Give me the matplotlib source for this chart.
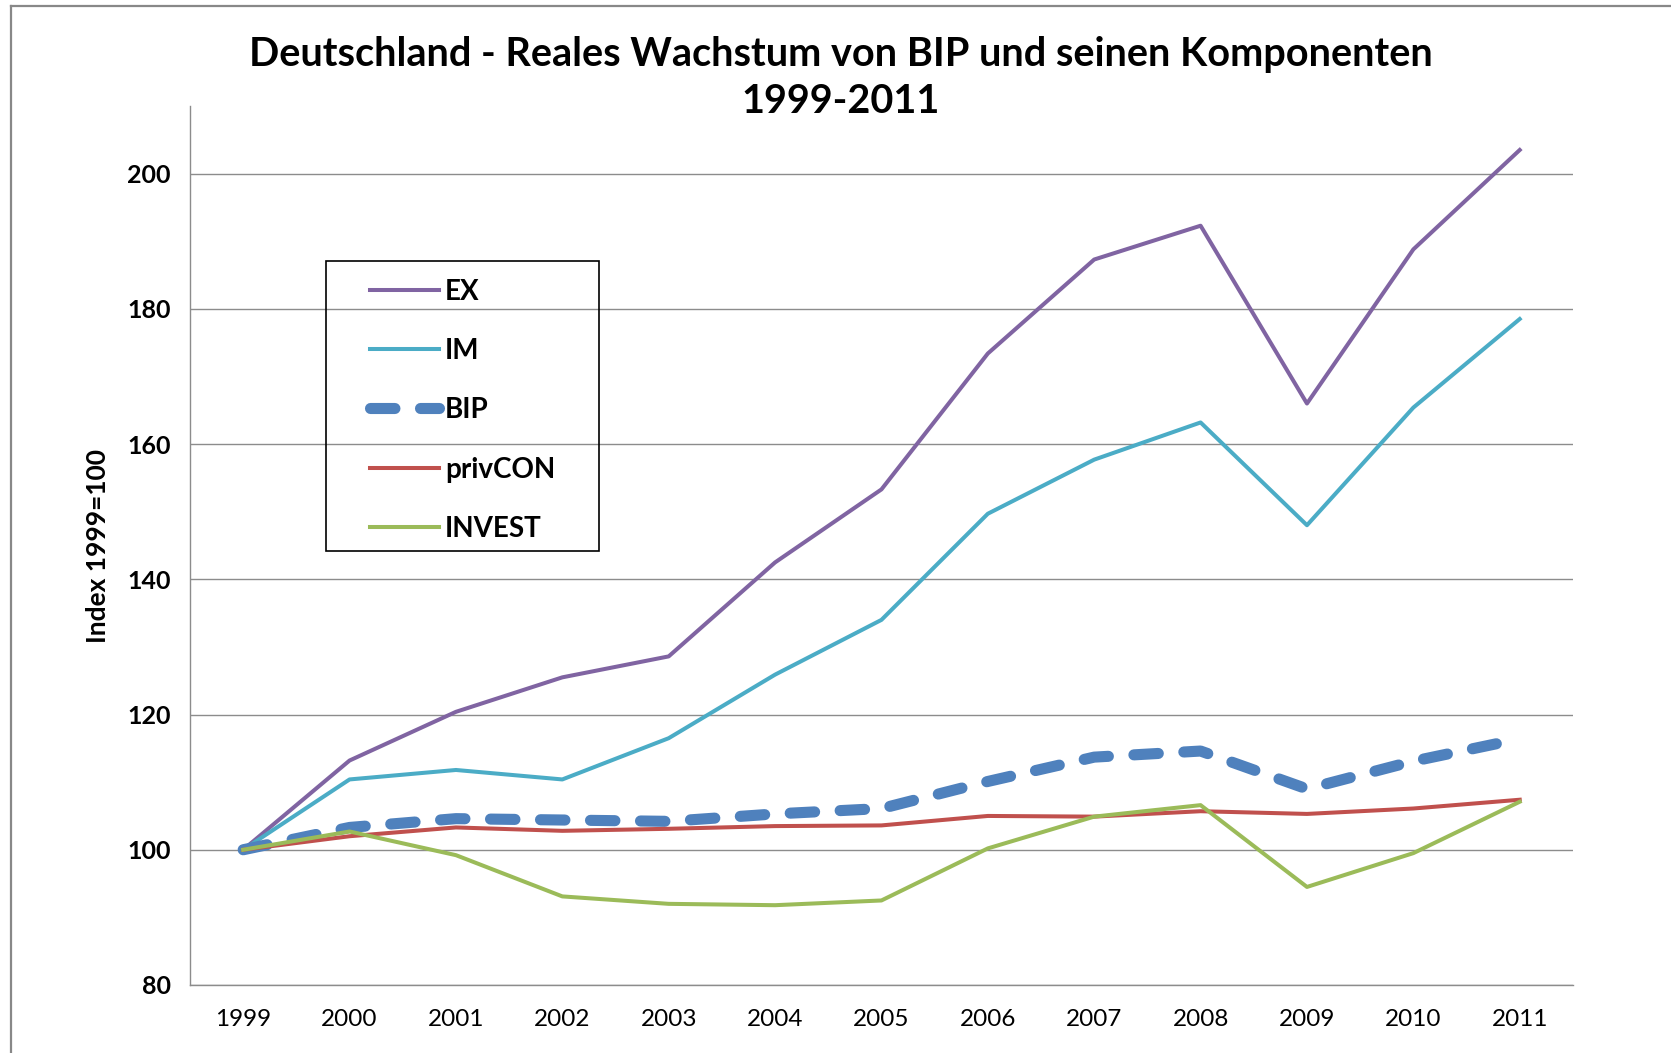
import matplotlib
matplotlib.use('Agg')
import matplotlib.pyplot as plt
from matplotlib.lines import Line2D
from matplotlib.patches import Rectangle

plt.rcParams['font.family'] = ['Lato', 'DejaVu Sans']

years = ['1999', '2000', '2001', '2002', '2003', '2004', '2005',
         '2006', '2007', '2008', '2009', '2010', '2011']
ex = [100, 113.2, 120.4, 125.5, 128.6, 142.5, 153.3, 173.4, 187.3, 192.3, 166.0, 188.8, 203.5]
im = [100, 110.4, 111.8, 110.4, 116.5, 125.9, 134.0, 149.7, 157.7, 163.2, 148.0, 165.4, 178.5]
bip = [100, 103.3, 104.6, 104.4, 104.2, 105.3, 106.1, 110.1, 113.7, 114.6, 109.0, 113.1, 116.4]
privcon = [100, 102.0, 103.3, 102.8, 103.1, 103.5, 103.6, 105.0, 104.9, 105.7, 105.3, 106.1, 107.4]
invest = [100, 102.7, 99.2, 93.1, 92.0, 91.8, 92.5, 100.2, 104.9, 106.6, 94.5, 99.5, 107.1]

fig = plt.figure(figsize=(16.71, 10.53), dpi=100)
ax = fig.add_axes([0.1137, 0.0646, 0.8276, 0.8347])

x = range(len(years))
ax.plot(x, ex, color='#8064A2', lw=2.9, label='EX')
ax.plot(x, im, color='#4BACC6', lw=2.9, label='IM')
ax.plot(x, bip, color='#4F81BD', lw=8, dashes=(2.2, 2.3), dash_capstyle='round', label='BIP')
ax.plot(x, privcon, color='#C0504D', lw=2.9, label='privCON')
ax.plot(x, invest, color='#9BBB59', lw=2.9, label='INVEST')

ax.set_xlim(-0.5, 12.5)
ax.set_ylim(80, 210)
ax.set_yticks([80, 100, 120, 140, 160, 180, 200])
ax.set_xticks(list(x))
ax.set_xticklabels(years)
ax.yaxis.grid(True, color='#8c8c8c', lw=1)
ax.set_axisbelow(True)
ax.tick_params(axis='x', length=0, labelsize=17.5, pad=17)
ax.tick_params(axis='y', length=0, labelsize=18, pad=14)
for lab in ax.get_yticklabels():
    lab.set_fontweight('bold')
for s in ['top', 'right']:
    ax.spines[s].set_visible(False)
for s in ['left', 'bottom']:
    ax.spines[s].set_color('#8c8c8c')
    ax.spines[s].set_linewidth(1)

ax.set_ylabel('Index 1999=100', fontsize=19, fontweight='bold')
ax.yaxis.set_label_coords(-0.058, 0.5)

# legend box drawn separately, entries placed inside it
fig.add_artist(Rectangle((326 / 1671, 1 - 551 / 1053), 273 / 1671, 290 / 1053,
                         transform=fig.transFigure, fill=False, ec='black', lw=1.2))
leg = fig.legend(loc='upper left', bbox_to_anchor=(0.2214, 0.7355), frameon=False,
                 handlelength=2.5, handletextpad=0.2, labelspacing=1.2,
                 borderpad=0, borderaxespad=0,
                 prop={'weight': 'bold', 'size': 20})

fig.text(0.503, 0.926, 'Deutschland - Reales Wachstum von BIP und seinen Komponenten\n1999-2011',
         ha='center', va='center', fontsize=28.5, fontweight='bold', linespacing=1.35)

# outer chart frame
fig.add_artist(Line2D([0.0066, 0.0066], [0, 0.9943], color='#888888', lw=1.6))
fig.add_artist(Line2D([0.0066, 1], [0.9943, 0.9943], color='#888888', lw=1.6))

fig.savefig('out.png', dpi=100)
